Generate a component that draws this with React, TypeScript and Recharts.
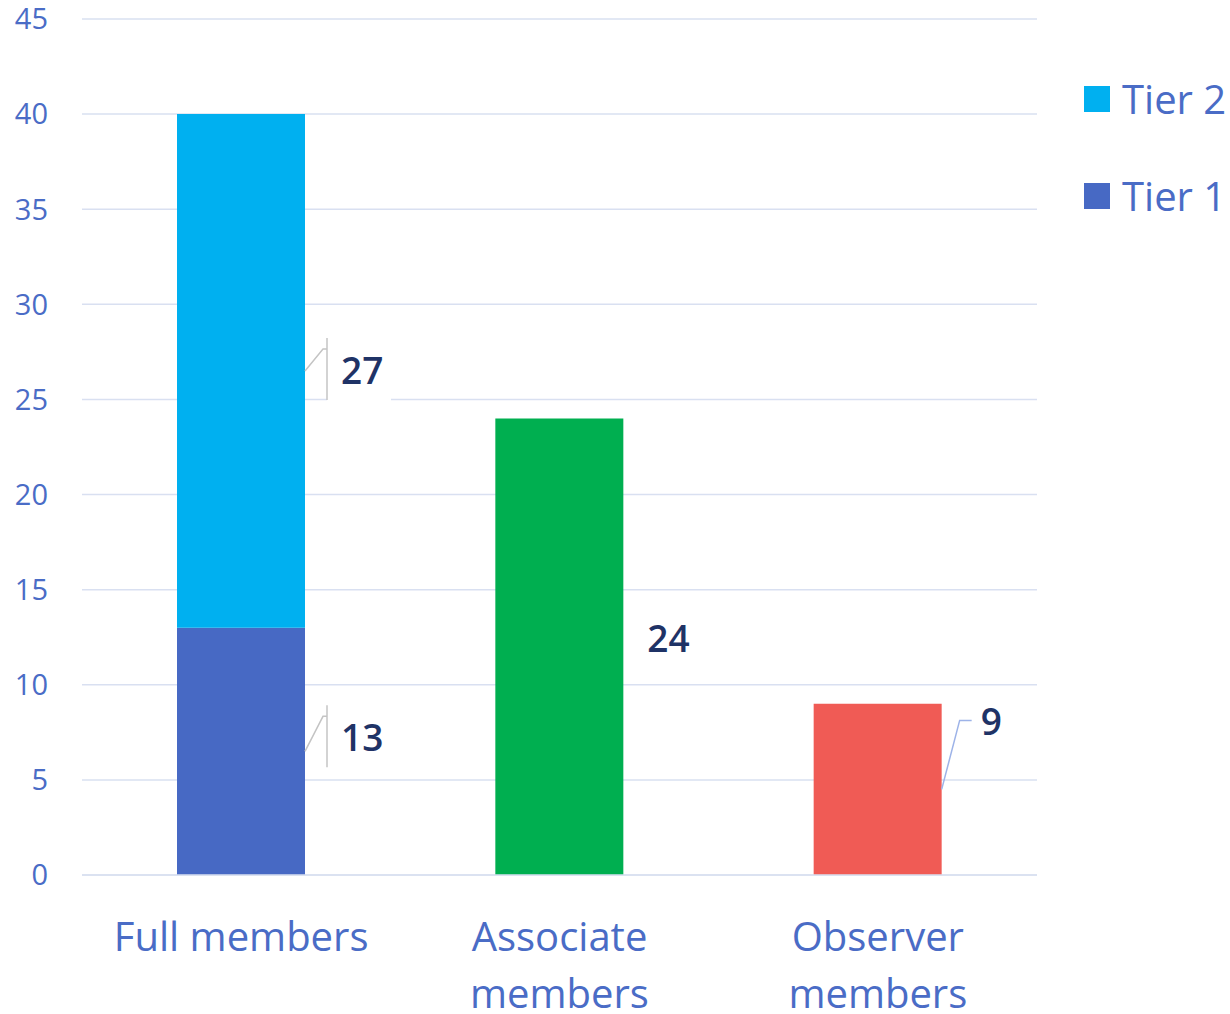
import React from 'react';
import { BarChart, Bar, XAxis, YAxis, CartesianGrid, LabelList } from 'recharts';

const categories = ['Full members', 'Associate members', 'Observer members'];
const tier1Values = [13, null, null];
const tier2Values = [27, null, null];
const associateValues = [null, 24, null];
const observerValues = [null, null, 9];
const yTicks = [0, 5, 10, 15, 20, 25, 30, 35, 40, 45];
const legendItems = [
  { label: 'Tier 2', color: '#00B0F0' },
  { label: 'Tier 1', color: '#4769C4' },
];

const data = categories.map((name, i) => ({
  name,
  tier1: tier1Values[i],
  tier2: tier2Values[i],
  associate: associateValues[i],
  observer: observerValues[i],
}));

const FONT = '"Open Sans", "Noto Sans", sans-serif';
const AXIS_COLOR = '#4A6CC6';
const GRID_COLOR = '#D9E0F1';
const LABEL_COLOR = '#1F3366';

type LabelOpts = {
  dy: number;
  textDx: number;
  leader?: 'box' | 'elbow';
  lineColor?: string;
};

const makeLabel = (opts: LabelOpts) => (props: any) => {
  const { x, y, width, height, value } = props;
  if (value == null || value === 0) return null;
  const right = Number(x) + Number(width);
  const midY = Number(y) + Number(height) / 2;
  const ty = midY + opts.dy;
  const fs = 37;
  const textEl = (
    <text
      x={right + opts.textDx}
      y={ty + 13}
      fill={LABEL_COLOR}
      fontSize={fs}
      fontWeight={600}
      fontFamily={FONT}
    >
      {value}
    </text>
  );
  if (opts.leader === 'box') {
    const boxLeft = right + 22;
    const top = ty - 33;
    const bottom = ty + 29;
    const elbowY = ty - 22;
    return (
      <g>
        <rect x={boxLeft} y={top} width={64} height={bottom - top + 1} fill="#ffffff" />
        <polyline
          points={`${right},${midY} ${boxLeft - 4},${elbowY} ${boxLeft},${elbowY}`}
          fill="none"
          stroke={opts.lineColor}
          strokeWidth={1.5}
        />
        <line x1={boxLeft} y1={top} x2={boxLeft} y2={bottom} stroke={opts.lineColor} strokeWidth={1.5} />
        {textEl}
      </g>
    );
  }
  if (opts.leader === 'elbow') {
    const elbowY = ty - 2;
    return (
      <g>
        <polyline
          points={`${right},${midY} ${right + 18},${elbowY} ${right + 30},${elbowY}`}
          fill="none"
          stroke={opts.lineColor}
          strokeWidth={1.5}
        />
        {textEl}
      </g>
    );
  }
  return textEl;
};

const CategoryTick = (props: any) => {
  const { x, y, payload } = props;
  const text: string = payload.value;
  const lines = text.length > 12 ? text.split(' ') : [text];
  return (
    <g>
      {lines.map((ln, i) => (
        <text
          key={i}
          x={x}
          y={Number(y) + 68 + i * 57}
          textAnchor="middle"
          fill={AXIS_COLOR}
          fontSize={40}
          fontFamily={FONT}
        >
          {ln}
        </text>
      ))}
    </g>
  );
};

export default function App() {
  return (
    <div style={{ position: 'absolute', left: 0, top: 0, width: 1230, height: 1014, background: '#fff' }}>
      <BarChart
        width={1230}
        height={1014}
        data={data}
        margin={{ top: 19, right: 193, left: 0, bottom: 0 }}
        barSize={128}
      >
        <CartesianGrid horizontal vertical={false} stroke={GRID_COLOR} strokeWidth={1.5} />
        <XAxis
          dataKey="name"
          height={139}
          tickLine={false}
          axisLine={{ stroke: GRID_COLOR, strokeWidth: 1.5 }}
          tick={<CategoryTick />}
          interval={0}
        />
        <YAxis
          width={82}
          domain={[0, 45]}
          ticks={yTicks}
          axisLine={false}
          tickLine={false}
          tickSize={0}
          tickMargin={34}
          tick={{ fill: AXIS_COLOR, fontSize: 29, fontFamily: FONT }}
        />
        <Bar dataKey="tier1" stackId="a" fill="#4769C4" isAnimationActive={false}>
          <LabelList dataKey="tier1" content={makeLabel({ dy: -13, textDx: 36, leader: 'box', lineColor: '#C4C4C4' })} />
        </Bar>
        <Bar dataKey="tier2" stackId="a" fill="#00B0F0" isAnimationActive={false}>
          <LabelList dataKey="tier2" content={makeLabel({ dy: 0, textDx: 36, leader: 'box', lineColor: '#C4C4C4' })} />
        </Bar>
        <Bar dataKey="associate" stackId="a" fill="#00AF50" isAnimationActive={false}>
          <LabelList dataKey="associate" content={makeLabel({ dy: -8, textDx: 24 })} />
        </Bar>
        <Bar dataKey="observer" stackId="a" fill="#F05B55" isAnimationActive={false}>
          <LabelList dataKey="observer" content={makeLabel({ dy: -67, textDx: 39, leader: 'elbow', lineColor: '#9DB3E8' })} />
        </Bar>
      </BarChart>
      <div style={{ position: 'absolute', left: 1084, top: 86, fontFamily: FONT }}>
        {legendItems.map((it) => (
          <div key={it.label} style={{ display: 'flex', alignItems: 'center', height: 26, marginBottom: 71 }}>
            <div style={{ width: 26, height: 26, background: it.color }} />
            <span style={{ marginLeft: 12, fontSize: 40, lineHeight: '26px', color: AXIS_COLOR, whiteSpace: 'nowrap' }}>
              {it.label}
            </span>
          </div>
        ))}
      </div>
    </div>
  );
}
